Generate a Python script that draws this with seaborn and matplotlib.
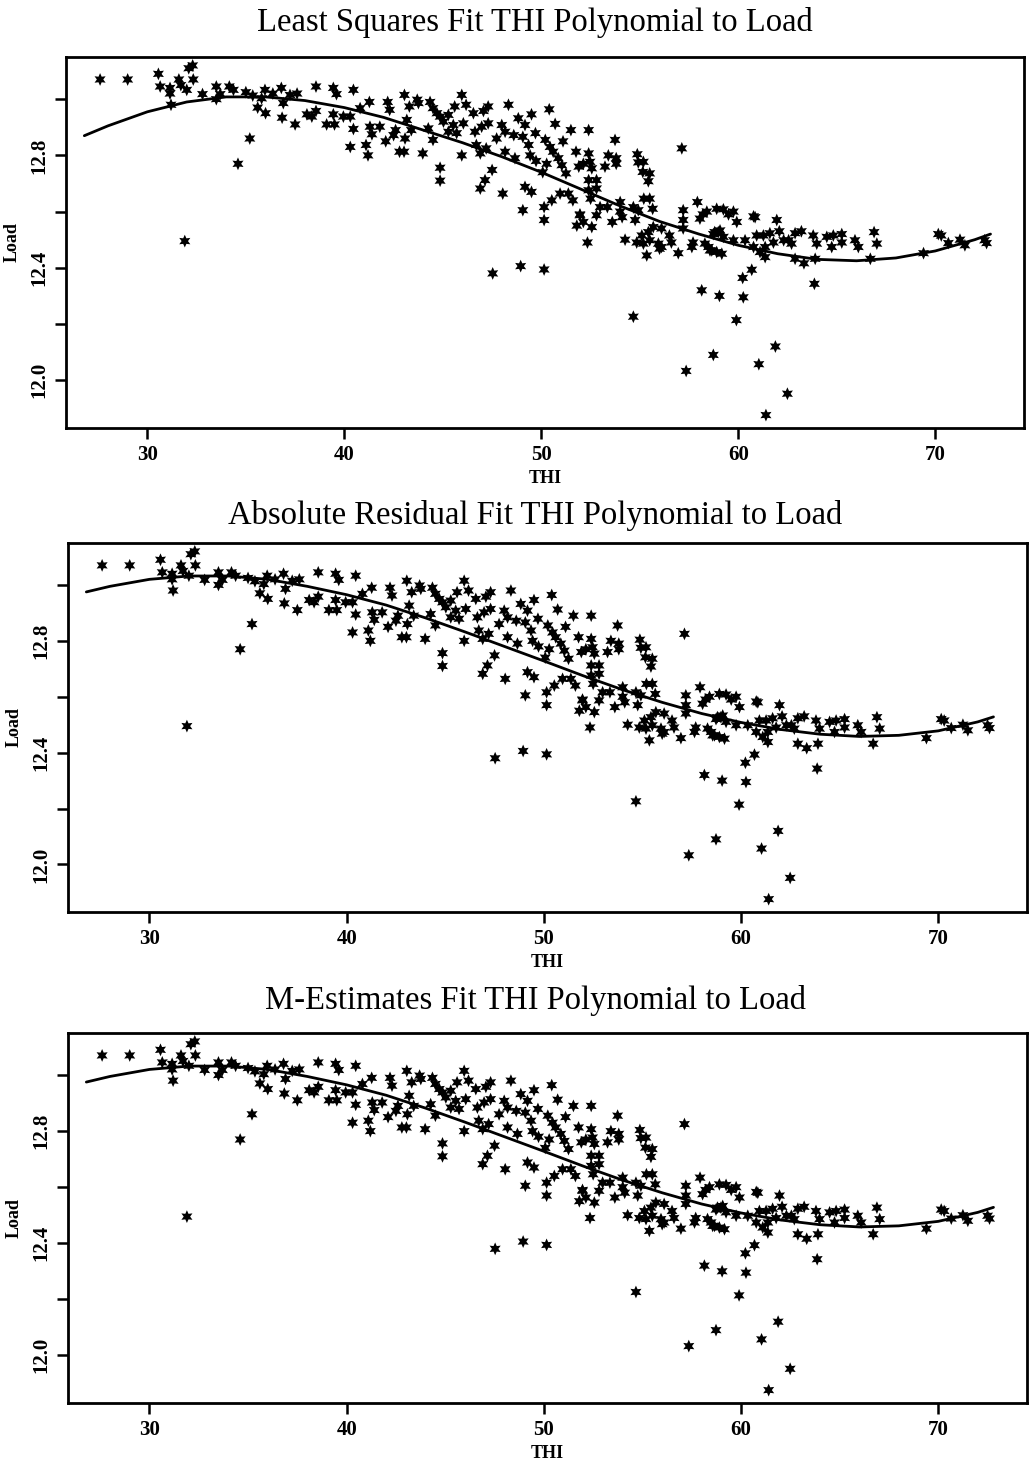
import matplotlib
matplotlib.use("Agg")
import matplotlib.pyplot as plt
import numpy as np
import pandas as pd
import seaborn as sns

sns.set_theme(style="white")
plt.rcParams["font.family"] = ["Liberation Serif", "DejaVu Serif"]
plt.rcParams["text.color"] = "black"
plt.rcParams["axes.labelcolor"] = "black"
plt.rcParams["xtick.color"] = "black"
plt.rcParams["ytick.color"] = "black"

# ---------------- data ----------------
thi = [27.6, 29.0, 30.56, 30.65, 31.15, 31.15, 31.6, 31.7, 32.0, 32.1, 32.3, 32.33, 31.2, 32.8,
       33.5, 33.5, 33.7, 34.16, 34.37, 34.6, 35.0, 35.2, 35.35, 35.6, 35.8, 35.97, 36.0, 36.37,
       36.8, 36.84, 36.9, 37.24, 37.5, 37.6, 31.9, 38.56, 39.44, 39.6, 40.46, 38.1, 38.35, 38.56,
       39.1, 39.44, 39.5, 39.95, 40.3, 40.3, 40.46, 40.8, 41.1, 41.2, 41.27, 41.3, 41.4, 41.8,
       42.1, 42.2, 42.3, 42.5, 42.6, 42.8, 43.03, 43.05, 43.08, 43.17, 43.3, 43.4, 43.7, 43.76,
       43.98, 44.26, 44.35, 44.5, 44.5, 44.7, 44.86, 44.86, 45.03, 45.28, 45.28, 45.53, 45.6,
       45.7, 45.96, 45.96, 46.04, 46.18, 46.55, 46.63, 46.7, 46.9, 46.9, 46.97, 47.06, 47.14,
       47.2, 47.3, 47.3, 47.5, 47.73, 47.99, 48.04, 48.16, 48.16, 48.33, 48.6, 48.66, 48.83,
       49.17, 49.06, 49.5, 49.7, 49.35, 49.43, 49.73, 50.4, 50.7, 50.2, 50.44, 50.6, 50.86, 51.1,
       51.04, 51.25, 50.07, 49.17, 49.5, 49.06, 50.14, 50.53, 50.95, 51.37, 51.6, 51.5, 52.4,
       51.76, 51.9, 52.13, 52.4, 52.47, 52.56, 52.4, 52.8, 52.4, 52.8, 52.5, 51.96, 52.98, 53.35,
       53.74, 53.4, 53.23, 53.8, 53.8, 54.0, 54.0, 54.87, 54.92, 55.18, 55.15, 55.5, 55.43, 55.2,
       55.5, 55.65, 54.67, 54.92, 57.13, 57.92, 57.2, 58.4, 58.9, 59.24, 59.75, 50.14, 51.96,
       51.8, 52.13, 52.56, 52.34, 52.8, 53.6, 54.1, 54.25, 54.76, 54.84, 55.1, 55.18, 55.35,
       55.43, 55.5, 55.68, 55.94, 56.0, 56.1, 56.5, 56.6, 56.95, 57.2, 57.2, 57.64, 57.7, 58.2,
       58.3, 58.56, 58.73, 58.98, 59.16, 59.24, 59.5, 59.92, 60.34, 60.85, 60.93, 61.27, 61.36,
       61.36, 50.14, 58.14, 59.04, 60.25, 60.22, 60.68, 54.67, 59.9, 48.95, 47.53, 58.73, 57.35,
       61.04, 61.88, 62.49, 61.4, 63.86, 61.95, 62.08, 61.6, 61.78, 62.3, 62.55, 62.7, 62.88,
       63.2, 62.88, 63.33, 63.8, 63.98, 63.9, 64.49, 64.82, 65.25, 64.74, 65.92, 66.09, 66.7,
       66.89, 67.03, 69.4, 70.15, 70.3, 70.66, 71.25, 71.5, 72.5, 72.6, 56.1, 58.05, 58.48,
       58.65, 58.9, 59.75, 60.77, 61.1, 60.77, 50.27, 44.86, 58.8, 59.07, 65.25]
load = [13.07, 13.07, 13.09, 13.045, 13.04, 13.02, 13.07, 13.05, 13.033, 13.11, 13.12, 13.07,
        12.98, 13.018, 13.045, 13.0, 13.018, 13.045, 13.033, 12.77, 13.025, 12.86, 13.013, 12.97,
        13.003, 13.033, 12.95, 13.02, 13.04, 12.934, 12.986, 13.015, 12.91, 13.02, 12.495, 13.045,
        13.04, 13.018, 13.033, 12.946, 12.938, 12.958, 12.91, 12.946, 12.91, 12.938, 12.938,
        12.83, 12.894, 12.968, 12.837, 12.80, 12.99, 12.902, 12.875, 12.902, 12.85, 12.99, 12.962,
        12.872, 12.89, 12.813, 12.813, 13.015, 12.86, 12.926, 12.974, 12.89, 12.998, 12.986,
        12.807, 12.896, 12.99, 12.855, 12.968, 12.95, 12.756, 12.71, 12.92, 12.944, 12.884,
        12.908, 12.974, 12.879, 13.015, 12.80, 12.914, 12.98, 12.95, 12.884, 12.837, 12.807,
        12.682, 12.902, 12.958, 12.712, 12.825, 12.974, 12.914, 12.748, 12.86, 12.908, 12.664,
        12.884, 12.813, 12.98, 12.872, 12.79, 12.932, 12.908, 12.866, 12.946, 12.879, 12.837,
        12.80, 12.78, 12.964, 12.912, 12.855, 12.83, 12.813, 12.79, 12.85, 12.765, 12.736, 12.74,
        12.688, 12.67, 12.605, 12.616, 12.64, 12.664, 12.664, 12.64, 12.89, 12.89, 12.813, 12.76,
        12.77, 12.807, 12.777, 12.754, 12.712, 12.712, 12.676, 12.682, 12.646, 12.59, 12.616,
        12.616, 12.855, 12.80, 12.76, 12.79, 12.77, 12.634, 12.60, 12.804, 12.775, 12.777, 12.741,
        12.736, 12.708, 12.646, 12.646, 12.61, 12.616, 12.605, 12.825, 12.634, 12.605, 12.60,
        12.61, 12.608, 12.60, 12.57, 12.587, 12.55, 12.563, 12.545, 12.49, 12.587, 12.563, 12.58,
        12.50, 12.57, 12.49, 12.515, 12.486, 12.444, 12.527, 12.498, 12.545, 12.486, 12.468,
        12.54, 12.515, 12.49, 12.452, 12.57, 12.54, 12.474, 12.49, 12.59, 12.486, 12.462, 12.52,
        12.527, 12.45, 12.51, 12.59, 12.563, 12.498, 12.58, 12.515, 12.515, 12.474, 12.438,
        12.394, 12.32, 12.30, 12.295, 12.364, 12.393, 12.226, 12.214, 12.406, 12.38, 12.09,
        12.033, 12.057, 12.12, 11.952, 11.876, 12.343, 12.57, 12.53, 12.523, 12.49, 12.498,
        12.498, 12.486, 12.523, 12.53, 12.432, 12.416, 12.515, 12.486, 12.432, 12.51, 12.515,
        12.52, 12.474, 12.498, 12.474, 12.432, 12.527, 12.486, 12.452, 12.52, 12.515, 12.488,
        12.50, 12.48, 12.498, 12.488, 12.474, 12.575, 12.474, 12.462, 12.456, 12.498, 12.474,
        12.456, 12.583, 12.77, 12.938, 12.527, 12.533, 12.49]

# fitted curves
curve_thi = [26.8, 28, 30, 32, 34, 36, 38, 40, 42, 44, 46, 48, 50, 52, 54, 56, 58, 60, 62,
             64, 66, 68, 70, 72, 72.8]
ls_fit = [12.87, 12.905, 12.955, 12.99, 13.008, 13.008, 12.995, 12.97, 12.935, 12.89, 12.845,
          12.795, 12.74, 12.68, 12.62, 12.565, 12.52, 12.48, 12.45, 12.43, 12.425, 12.435,
          12.46, 12.5, 12.52]
lad_fit = [12.975, 12.995, 13.02, 13.032, 13.032, 13.02, 12.995, 12.965, 12.928, 12.882,
           12.832, 12.78, 12.728, 12.675, 12.625, 12.58, 12.54, 12.508, 12.483, 12.466,
           12.458, 12.462, 12.478, 12.51, 12.528]
m_fit = [12.975, 12.995, 13.02, 13.032, 13.032, 13.02, 12.995, 12.965, 12.928, 12.882,
         12.832, 12.78, 12.728, 12.675, 12.625, 12.58, 12.54, 12.508, 12.483, 12.466,
         12.458, 12.462, 12.478, 12.51, 12.528]

titles = ["Least Squares Fit THI Polynomial to Load",
          "Absolute Residual Fit THI Polynomial to Load",
          "M-Estimates Fit THI Polynomial to Load"]
x_ticks = [30, 40, 50, 60, 70]
y_ticks = [12.0, 12.2, 12.4, 12.6, 12.8, 13.0]
y_ticklabels = ["12.0", "", "12.4", "", "12.8", ""]

# ---------------- figure ----------------
W, H = 1029, 1468
fig = plt.figure(figsize=(W / 100, H / 100), dpi=100)

# (left, top, right, bottom) in pixels
boxes = [(66, 57, 1024, 428), (68, 543, 1027, 912), (68, 1033, 1027, 1403)]
title_y = [22, 515, 1000]

df = pd.DataFrame({"THI": thi, "Load": load})
fits = [ls_fit, lad_fit, m_fit]

for (l, t, r, b), fit, title, ty in zip(boxes, fits, titles, title_y):
    ax = fig.add_axes([l / W, 1 - b / H, (r - l) / W, (b - t) / H])
    sns.scatterplot(data=df, x="THI", y="Load", marker=(6, 1, 0), s=85,
                    color="black", edgecolor="none", linewidth=0, ax=ax, zorder=3)
    sns.lineplot(x=curve_thi, y=fit, color="black", linewidth=2.0,
                 estimator=None, sort=False, ax=ax, zorder=4)
    ax.set_xlim(25.87, 74.5)
    ax.set_ylim(11.83, 13.15)
    ax.set_xticks(x_ticks)
    ax.set_xticklabels([str(v) for v in x_ticks], fontweight="bold", fontsize=15)
    ax.set_yticks(y_ticks)
    ax.set_yticklabels(y_ticklabels, fontweight="bold", fontsize=15,
                       rotation=90, va="center")
    ax.tick_params(axis="both", direction="out", length=8, width=1.8,
                   color="black", pad=4, bottom=True, left=True)
    for sp in ax.spines.values():
        sp.set_linewidth(2.0)
        sp.set_color("black")
    ax.set_xlabel("THI", fontweight="bold", fontsize=13, labelpad=4)
    ax.set_ylabel("Load", fontweight="bold", fontsize=13, labelpad=6)
    fig.text(0.52, 1 - ty / H, title, ha="center", va="center", fontsize=23.5)

fig.savefig("out.png", dpi=100, facecolor="white")
